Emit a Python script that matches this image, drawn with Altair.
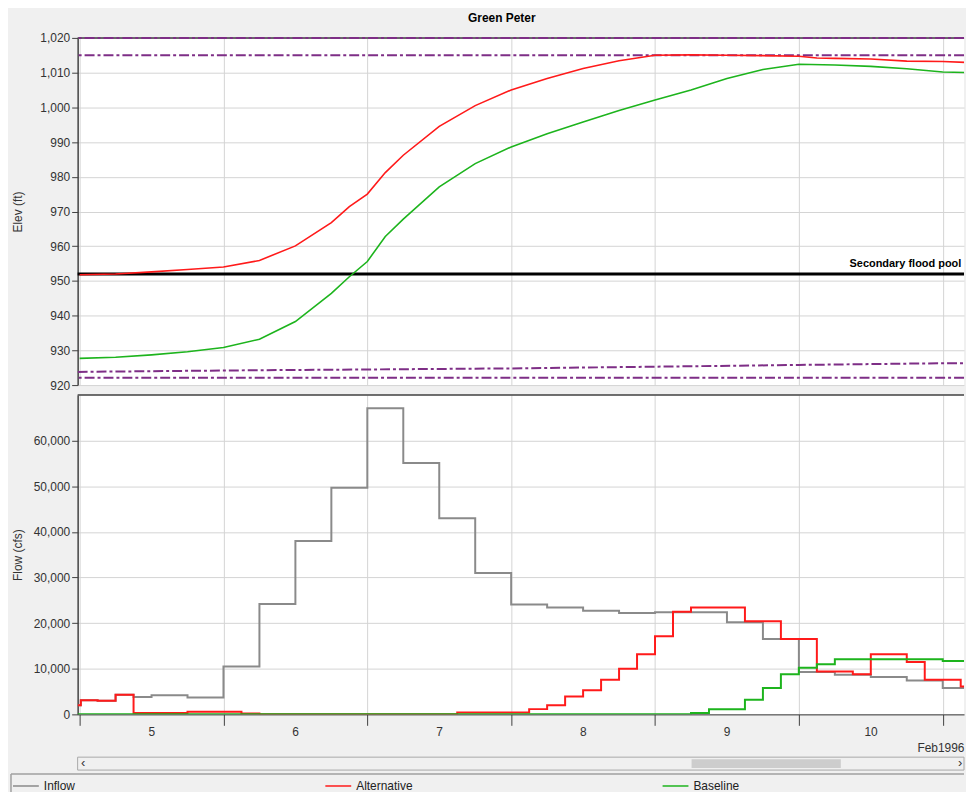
import altair as alt
import pandas as pd

# ---------------- data (hours after 5 Feb 1996 00:00) ----------------
DAY_TICKS = [0, 24, 48, 72, 96, 120, 144]
X_DOMAIN = [-0.33, 147.55]

SERIES = ["Inflow", "Alternative", "Baseline"]
COLORS = ["#8A8A8A", "#FF1A1A", "#1DB41D"]

# Pool elevation (ft)
alt_elev_hours = [0, 6, 12, 18, 24, 30, 36, 42, 45, 48, 51, 54, 60, 66, 72, 78, 84, 90,
                  96, 102, 108, 114, 120, 123, 126, 132, 138, 144, 150]
alt_elev = [951.8, 952.0, 952.6, 953.3, 954.0, 955.9, 960.1, 966.8, 971.4, 975.0, 981.2,
            986.2, 994.5, 1000.5, 1005.0, 1008.3, 1011.2, 1013.4, 1015.0, 1015.1, 1015.0,
            1014.9, 1014.7, 1014.2, 1014.1, 1013.9, 1013.3, 1013.2, 1012.8]

base_elev_hours = [0, 6, 12, 18, 24, 30, 36, 42, 45, 48, 51, 54, 60, 66, 72, 78, 84, 90,
                   96, 102, 108, 114, 120, 126, 132, 138, 144, 150]
base_elev = [927.7, 928.0, 928.7, 929.6, 930.8, 933.2, 938.3, 946.4, 951.2, 955.6, 962.8,
             967.8, 977.1, 983.8, 988.6, 992.4, 995.8, 999.1, 1002.1, 1005.0, 1008.3,
             1010.9, 1012.4, 1012.2, 1011.8, 1011.1, 1010.2, 1009.9]

# guide-curve / pool limits (ft)
flat_pools = [1020.0, 1015.0, 922.1]
rule_curve_hours = [-0.33, 24, 48, 72, 96, 120, 144, 150]
rule_curve = [923.8, 924.2, 924.5, 924.8, 925.3, 925.8, 926.3, 926.3]
secondary_pool = 952.0
secondary_label = "Secondary flood pool"

# Flows (cfs), step-after
inflow_hours = [-0.33, 0.2, 3, 6, 9, 12, 18, 24, 30, 36, 42, 48, 54, 60, 66, 72, 78, 84,
                90, 96, 108, 114, 120, 126, 132, 138, 144, 150]
inflow = [2020, 3100, 2970, 4280, 3830, 4200, 3700, 10500, 24200, 38000, 49700, 67100,
          55100, 43000, 31000, 24100, 23400, 22700, 22200, 22400, 20200, 16500, 9300,
          8700, 8200, 7400, 5800, 5800]

alt_flow_hours = [-0.33, 0.2, 3, 6, 9, 18, 27, 30, 63, 75, 78, 81, 84, 87, 90, 93, 96, 99,
                  102, 111, 117, 123, 129, 132, 138, 141, 147, 150]
alt_flow = [2020, 3100, 2970, 4280, 300, 550, 200, 0, 400, 1150, 2000, 3900, 5300, 7600,
            10000, 13200, 17100, 22500, 23400, 20400, 16500, 9400, 8800, 13200, 11500,
            7600, 6100, 6100]

base_flow_hours = [-0.33, 102, 105, 111, 114, 117, 120, 123, 126, 144, 150]
base_flow = [0, 300, 1100, 3200, 5800, 8800, 10200, 11000, 12100, 11700, 11700]

scroll_thumb = [102.1, 127.0]

# ---------------- tables ----------------
elev_df = pd.concat([
    pd.DataFrame({"hour": alt_elev_hours, "value": alt_elev, "series": "Alternative", "o": 1}),
    pd.DataFrame({"hour": base_elev_hours, "value": base_elev, "series": "Baseline", "o": 2}),
])
flow_df = pd.concat([
    pd.DataFrame({"hour": inflow_hours, "value": inflow, "series": "Inflow", "o": 0}),
    pd.DataFrame({"hour": alt_flow_hours, "value": alt_flow, "series": "Alternative", "o": 1}),
    pd.DataFrame({"hour": base_flow_hours, "value": base_flow, "series": "Baseline", "o": 2}),
])
flat_df = pd.DataFrame({"value": flat_pools})
curve_df = pd.DataFrame({"hour": rule_curve_hours, "value": rule_curve})
sec_df = pd.DataFrame({"value": [secondary_pool]})
label_df = pd.DataFrame({"hour": [147.1], "value": [secondary_pool], "label": [secondary_label]})

FONT = "Liberation Sans"
PLOT_W = 891
TOP_H = 349
BOT_H = 321
DARK = "#404040"
GRID = "#D4D4D4"
PURPLE = "#7E2E86"
DASHDOT = [10, 3, 3, 3]

x_scale = alt.Scale(domain=X_DOMAIN, nice=False, zero=False)
color = alt.Color("series:N", scale=alt.Scale(domain=SERIES, range=COLORS),
                  legend=alt.Legend(title=None, orient="none", legendX=-66, legendY=738,
                                    direction="horizontal",
                                    symbolType="stroke", symbolSize=676, symbolStrokeWidth=1.5,
                                    labelFontSize=12, labelFont=FONT, labelColor="#222",
                                    columnPadding=248))


def y_axis(title, values, h):
    return alt.Axis(values=values, format=",d", title=title,
                    tickSize=6, tickColor=DARK, domainColor=DARK, domainWidth=1.5,
                    labelPadding=2, labelFontSize=12, labelColor="#333", labelFont=FONT,
                    titleFont=FONT, titleFontSize=12, titleFontWeight="normal",
                    titleColor="#333", titleX=-53, titleY=h / 2, titleAngle=270,
                    titleBaseline="bottom", gridColor=GRID)


# ---------- top panel ----------
x_top = alt.X("hour:Q", scale=x_scale,
              axis=alt.Axis(values=DAY_TICKS, grid=True, gridColor=GRID, labels=False,
                            ticks=False, domain=False, title=None))
y_top = alt.Y("value:Q", scale=alt.Scale(domain=[920, 1020], nice=False, zero=False),
              axis=y_axis("Elev (ft)", list(range(920, 1021, 10)), TOP_H))

top_border = alt.Chart(pd.DataFrame({"value": [1020.0]})).mark_rule(
    color=DARK, strokeWidth=1.5).encode(y=y_top)
flat = alt.Chart(flat_df).mark_rule(color=PURPLE, strokeWidth=2, strokeDash=DASHDOT).encode(y=y_top)
curve = alt.Chart(curve_df).mark_line(color=PURPLE, strokeWidth=2, strokeDash=DASHDOT,
                                      clip=True).encode(x=x_top, y=y_top)
sec = alt.Chart(sec_df).mark_rule(color="#000", strokeWidth=3).encode(y=y_top)
sec_text = alt.Chart(label_df).mark_text(align="right", baseline="bottom", dy=-5,
                                         font=FONT, fontSize=11, fontWeight="bold",
                                         color="#000").encode(x=x_top, y=y_top, text="label:N")
elev = alt.Chart(elev_df).mark_line(strokeWidth=1.6, clip=True).encode(
    x=x_top, y=y_top, color=color, order="o:Q", detail="series:N")

top = alt.layer(top_border, flat, curve, sec, sec_text, elev).properties(
    width=PLOT_W, height=TOP_H)

# ---------- bottom panel ----------
x_bot = alt.X("hour:Q", scale=x_scale,
              axis=alt.Axis(values=DAY_TICKS, grid=True, gridColor=GRID,
                            labelExpr="datum.value < 144 ? toString(5 + datum.value / 24) : ''",
                            labelOffset=72, labelPadding=1, tickSize=11, tickColor=DARK,
                            domainColor=DARK, labelFontSize=12, labelColor="#333", labelFont=FONT,
                            title="Feb1996", titleAnchor="end", titleFont=FONT, titleFontSize=12,
                            titleFontWeight="normal", titleColor="#333", titlePadding=5))
y_bot = alt.Y("value:Q", scale=alt.Scale(domain=[0, 70000], nice=False),
              axis=y_axis("Flow (cfs)", list(range(0, 60001, 10000)), BOT_H))

bot_border = alt.Chart(pd.DataFrame({"value": [70000]})).mark_rule(
    color=DARK, strokeWidth=1.5).encode(y=y_bot)
flows = alt.Chart(flow_df).mark_line(strokeWidth=2, interpolate="step-after", clip=True).encode(
    x=x_bot, y=y_bot, color=color, order="o:Q", detail="series:N")

# window chrome below the plot: scrollbar track, thumb, arrows, legend frame
x_sc = alt.X("hour:Q", scale=x_scale)
track = alt.Chart(pd.DataFrame({"k": [0]})).mark_rect(
    fill="#F0F0F0", stroke="#A8A8A8", strokeWidth=1).encode(
    x=alt.value(0), x2=alt.value(PLOT_W), y=alt.value(BOT_H + 43), y2=alt.value(BOT_H + 56))
thumb = alt.Chart(pd.DataFrame({"hour": [scroll_thumb[0]], "hour2": [scroll_thumb[1]]})).mark_rect(
    color="#CDCDCD").encode(x=x_sc, x2="hour2:Q", y=alt.value(BOT_H + 45), y2=alt.value(BOT_H + 54))
arrows = alt.Chart(pd.DataFrame({"hour": [0.6, 146.9], "t": ["‹", "›"]})).mark_text(
    font=FONT, fontSize=13, color="#333", baseline="middle").encode(
    x=x_sc, y=alt.value(BOT_H + 49), text="t:N")
frame_top = alt.Chart(pd.DataFrame({"k": [0]})).mark_rule(color="#A0A0A0", strokeWidth=1.5).encode(
    x=alt.value(-67), x2=alt.value(PLOT_W), y=alt.value(BOT_H + 60))
frame_left = alt.Chart(pd.DataFrame({"k": [0]})).mark_rule(color="#A0A0A0", strokeWidth=1.5).encode(
    x=alt.value(-67), y=alt.value(BOT_H + 60), y2=alt.value(BOT_H + 78))

bottom = alt.layer(bot_border, flows, track, thumb, arrows, frame_top, frame_left).properties(
    width=PLOT_W, height=BOT_H)

chart = alt.vconcat(top, bottom, spacing=3).properties(
    title=alt.TitleParams("Green Peter", font=FONT, fontSize=12, fontWeight="bold",
                          color="#000", anchor="middle", offset=7, dx=14),
    padding={"left": 2, "top": 2, "right": 0, "bottom": 0},
).configure(background="#F0F0F0").configure_view(fill="white", stroke=None)

chart.save("out.html", embed_options={"renderer": "svg", "actions": False})
